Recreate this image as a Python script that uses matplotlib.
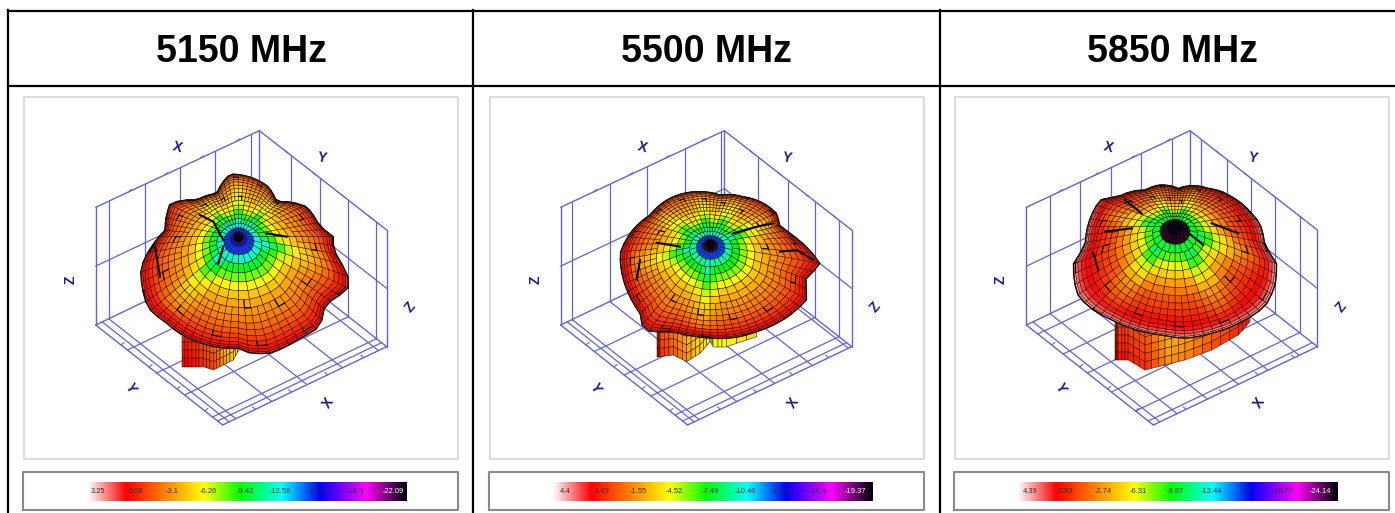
import numpy as np
import matplotlib
matplotlib.use('Agg')
import matplotlib.pyplot as plt
from matplotlib.collections import PolyCollection, LineCollection
from matplotlib.colors import LinearSegmentedColormap

# headers and colour scale labels
Freqs = ['5150 MHz', '5500 MHz', '5850 MHz']
Scale_1 = ['3.25', '0.08', '-3.1', '-6.26', '-9.42', '-12.58', '-15.74', '-18.9', '-22.09']
Scale_2 = ['4.4', '1.43', '-1.55', '-4.52', '-7.49', '-10.46', '-13.43', '-16.4', '-19.37']
Scale_3 = ['4.39', '0.83', '-2.74', '-6.31', '-9.87', '-13.44', '-17', '-20.57', '-24.14']

# gain (dB) per mesh ring, hole to rim
Ring_1 = [-15.6,-14.5,-11.5,-9.4,-7.6,-5.9,-4.6,-3.8,-3.3,-2.8,-2.3,-1.8,-1.3,-0.8,-0.3,0.2,0.7,1.5]
Ring_2 = [-18.9,-12.2,-8.9,-7.0,-5.6,-4.2,-3.0,-2.3,-1.8,-1.3,-0.8,-0.35,0.1,0.6,1.07,1.55,2.0,2.7]
Ring_3 = [-24.1,-23.6,-9.9,-8.2,-6.4,-4.7,-3.3,-2.2,-1.3,-0.75,-0.2,0.4,0.97,1.25,1.8,2.4,3.1,3.8]

Hole_1 = (715, 440)
Hole_2 = (690, 462)
Hole_3 = (690, 410)
Hole_size = [6, 6, 11]
Out_1_x = [690,805,830,920,960,1000,1000,1025,1053,1000,975,960,900,810,750,720,640,555,500,450,435,422,465,495,510,590,650]
Out_1_y = [252,290,335,350,410,440,480,520,585,630,640,710,745,790,790,775,770,740,700,660,630,535,455,420,340,330,310]
Out_2_x = [610,660,720,790,860,890,900,950,1020,975,980,960,900,830,700,650,580,490,480,460,430,420,450,510,560]
Out_2_y = [310,305,315,320,345,370,410,445,520,570,630,650,695,725,745,740,725,720,670,640,570,490,430,375,330]
Out_3_x = [465,520,600,640,700,790,860,920,945,960,995,990,960,900,800,720,650,560,500,430,395,385,420,430]
Out_3_y = [330,320,300,285,295,295,320,370,400,470,520,590,650,690,730,745,735,715,690,650,610,520,470,400]

# lower lobe under the dome
Stub_1_x = [545,575,610,640,670,700,720,750,810]
Stub_1_y = [830,830,830,840,825,810,775,790,790]
Stub_1_g = [0.2,-0.2,-1.0,-1.5,-3.5,-5.0,-5.0,-5.5,-4.0]
Stub_2_x = [530,540,580,620,660,690,700,740,830]
Stub_2_y = [800,800,795,815,790,755,770,770,740]
Stub_2_g = [1.0,0.5,-0.5,-2.0,-3.5,-4.0,-4.5,-4.0,-3.0]
Stub_3_x = [510,520,550,600,660,720,800,880,915]
Stub_3_y = [810,810,810,840,825,810,780,735,695]
Stub_3_g = [0.8,0.4,0.2,-0.5,-3.0,-2.5,-1.0,0.0,0.5]

# directions (deg, screen) of the darker arms around the hole
Arms_1 = [-135, -90, -45, 15, 133]
Arms_2 = [-150, -100, -60, -20, 165, 95]
Arms_3 = [-170, -120, -60, 20, 60, 130]

# dark folds in the mesh
Folds_1 = [[(600,375),(640,395),(670,450)], [(800,430),(860,440)], [(670,470),(655,520)], [(465,470),(480,560)]]
Folds_2 = [[(530,458),(600,470)], [(760,430),(830,410),(880,400)], [(900,485),(950,480),(1000,510)], [(480,510),(470,570)]]
Folds_3 = [[(480,425),(560,415)], [(540,330),(590,370)], [(720,420),(775,465)], [(800,400),(880,430)], [(445,490),(460,540)]]

# wire box grid, fractions along the walls
Left_1 = [.08,.30,.515,.73,.95]
Right_1 = [.25,.48,.70,.92]
Left_2 = [.07,.30,.53,.76,.98]
Right_2 = [.265,.50,.71,.90]
Left_3 = [.145,.33,.52,.70,.89]
Right_3 = [.09,.29,.48,.67,.86]

# crop origin (px), box top corner in crop
Crop_x = [0, 480, 945]
Top_x = [778, 733, 735]
Frame_x = [(24, 458), (490, 924), (955, 1389)]
Bar_x = [(87, 407), (552, 873), (1017, 1338)]
Label_x = [[98,136,172,208,245,280,318,355,393],
           [565,602,638,674,710,745,782,818,855],
           [1030,1066,1103,1138,1175,1211,1246,1283,1320]]

Scale_colors = ['#ffffff','#ff0000','#ff8000','#ffff00','#00ff00','#00ffff','#0000ff','#ff00ff','#000000']
Scale_pos = [0,.12,.24,.365,.48,.61,.73,.875,1]
cmap = LinearSegmentedColormap.from_list('gain', list(zip(Scale_pos, Scale_colors)))

Blue = '#5f63dc'

plt.rcParams['font.family'] = ['Liberation Sans', 'DejaVu Sans']
fig = plt.figure(figsize=(13.95, 5.13), dpi=100)
ax = fig.add_axes([0, 0, 1, 1])
ax.set_xlim(0, 1395)
ax.set_ylim(513, 0)
ax.axis('off')


def wire_box(i, left, right):
    ox = Crop_x[i]
    def P(x, y):
        return np.array([ox + (Top_x[i] + x) / 3, 90 + y / 3])
    top, lt, lb = P(0, 122), P(-491, 352), P(-491, 705)
    back, rb, rt = P(0, 470), P(382, 770), P(382, 420)
    front = P(-110, 1005)
    def seg(a, b, lw=0.9):
        ax.plot([a[0], b[0]], [a[1], b[1]], color=Blue, lw=lw, zorder=1, solid_capstyle='round')
    for a, b in [(top, lt), (lt, lb), (top, back), (top, rt), (rt, rb), (back, lb), (back, rb), (lb, front), (front, rb)]:
        seg(a, b, 1.0)
    # mid lines on the walls
    seg((lt + lb) / 2, (top + back) / 2)
    seg((rt + rb) / 2, (top + back) / 2)
    for f in left:
        seg(lb + f * (back - lb), lt + f * (top - lt))
        seg(lb + f * (back - lb), front + f * (rb - front))
    for f in right:
        seg(back + f * (rb - back), top + f * (rt - top))
        seg(back + f * (rb - back), lb + f * (front - lb))
    # inner edge of the floor
    d = 0.04
    seg(lb + d * (back - lb), front + d * (rb - front))
    seg(rb + d * (back - rb), front + d * (lb - front))
    # ticks on the top edges
    for f in [.2, .42, .64, .86]:
        p = lt + f * (top - lt)
        seg(p, p + np.array([3, -2.5]), 0.8)
        p = top + f * (rt - top)
        seg(p, p + np.array([3, 2.5]), 0.8)
        p = lb + f * (front - lb)
        seg(p, p + np.array([3, -2.5]), 0.8)
        p = front + f * (rb - front)
        seg(p, p + np.array([-3, -2.5]), 0.8)
    # axis letters
    for s, dx, dy, rot in [('X', -82, 17, -15), ('Y', 63, 27, -10), ('Z', -189, 149, 90),
                           ('Z', 151, 177, 50), ('Y', -129, 257, -60), ('X', 69, 272, 55)]:
        ax.text(ox + Top_x[i] / 3 + dx, 90 + 122 / 3 + dy, s, fontsize=10,
                color='#1a1a8c', rotation=rot, ha='center', va='center', fontweight='bold', zorder=2)


def dome(i, hole, xs, ys, rings, top, bot, arms, folds, stub_x, stub_y, stub_g):
    ox = Crop_x[i]
    span = top - bot
    # lower lobe, straight columns hanging behind the dome
    polys, vals = [], []
    sx = np.array(stub_x, float)
    sy = np.array(stub_y, float)
    n_sub = 3
    for k in range(len(sx) - 1):
        for c in range(n_sub):
            f0, f1 = c / n_sub, (c + 1) / n_sub
            x0, x1 = sx[k] + f0 * (sx[k + 1] - sx[k]), sx[k] + f1 * (sx[k + 1] - sx[k])
            y0, y1 = sy[k] + f0 * (sy[k + 1] - sy[k]), sy[k] + f1 * (sy[k + 1] - sy[k])
            g = stub_g[k] + f0 * (stub_g[k + 1] - stub_g[k])
            for r in range(6):
                ya0, ya1 = y0 - 150 + 150 * r / 6, y0 - 150 + 150 * (r + 1) / 6
                yb0, yb1 = y1 - 150 + 150 * r / 6, y1 - 150 + 150 * (r + 1) / 6
                polys.append([(ox + x0 / 3, 90 + ya0 / 3), (ox + x1 / 3, 90 + yb0 / 3),
                              (ox + x1 / 3, 90 + yb1 / 3), (ox + x0 / 3, 90 + ya1 / 3)])
                vals.append((top - g + 0.3 * (5 - r)) / span)
    ax.add_collection(PolyCollection(polys, array=np.array(vals), cmap=cmap, clim=(0, 1),
                                     edgecolors='#201000', linewidths=0.35, zorder=3))

    # dome outline as radius around the hole
    dx, dy = np.array(xs, float) - hole[0], np.array(ys, float) - hole[1]
    ang = np.arctan2(dy, dx)
    rad = np.hypot(dx, dy)
    order = np.argsort(ang)
    spokes = np.linspace(-np.pi, np.pi, 73)
    R = np.interp(spokes, ang[order], rad[order], period=2 * np.pi)
    kernel = np.ones(15) / 15
    smooth = np.convolve(np.r_[R[-8:-1], R, R[1:8]], kernel, mode='valid')
    nr = len(rings)
    tt = np.sin(np.linspace(0.02, 1, nr + 1) * np.pi / 2) ** 1.15
    X = np.zeros((nr + 1, 73))
    Y = np.zeros((nr + 1, 73))
    for k, t in enumerate(tt):
        w = t ** 3
        rr = t * (w * R + (1 - w) * smooth)
        X[k] = hole[0] + rr * np.cos(spokes)
        Y[k] = hole[1] + rr * np.sin(spokes)
    X = ox + X / 3
    Y = 90 + Y / 3

    polys, vals, steps = [], [], []
    for k in range(nr):
        t = (k + 0.5) / nr
        # inner rings use every second spoke so the hole does not fill in
        stride = 3 if k < 3 else 2 if k < 8 else 1
        for s in range(0, 72, stride):
            phi = 0.5 * (spokes[s] + spokes[s + stride])
            pos = (top - rings[k]) / span
            # rim stays darker on the far side
            pos += 0.10 * max(0, -np.sin(phi)) * t
            for a in arms:
                d = np.degrees((phi - np.radians(a) + np.pi) % (2 * np.pi) - np.pi)
                if 0.15 < t < 0.75:
                    pos += 0.13 * np.exp(-(d / 10) ** 2) * (1 - t)
            polys.append([(X[k, s], Y[k, s]), (X[k, s + stride], Y[k, s + stride]),
                          (X[k + 1, s + stride], Y[k + 1, s + stride]), (X[k + 1, s], Y[k + 1, s])])
            vals.append(pos)
            # broken dark steps of the mesh
            if k > 6 and (k * 7 + s * 13 + i * 5) % 29 == 0:
                steps.append([(X[k + 1, s], Y[k + 1, s]), (X[k + 1, s + 1], Y[k + 1, s + 1]), (X[k, s + 1], Y[k, s + 1])])
    ax.add_collection(PolyCollection(polys, array=np.array(vals), cmap=cmap, clim=(0, 1),
                                     edgecolors='#201000', linewidths=0.35, zorder=4))
    ax.add_collection(LineCollection(steps, colors='black', linewidths=0.9, zorder=5))
    ax.plot(X[-1], Y[-1], color='#201000', lw=0.8, zorder=5)
    for fold in folds:
        fx = [ox + p[0] / 3 for p in fold]
        fy = [90 + p[1] / 3 for p in fold]
        ax.plot(fx, fy, color='black', lw=1.5, zorder=5)
    ax.plot(ox + hole[0] / 3, 90 + hole[1] / 3, 'o', ms=Hole_size[i], color='#050514', zorder=5)


def color_bar(i, labels):
    x0, x1 = Bar_x[i]
    grad = np.linspace(0, 1, 400).reshape(1, -1)
    ax.imshow(grad, cmap=cmap, extent=(x0, x1, 501, 482), aspect='auto', zorder=2, vmin=0, vmax=1)
    for x, s in zip(Label_x[i], labels):
        col = 'white' if s == labels[-1] else '#303030'
        ax.text(x, 491.5, s, fontsize=5.4, color=col, ha='center', va='center', zorder=3)


Scales = [Scale_1, Scale_2, Scale_3]
Walls = [(Left_1, Right_1), (Left_2, Right_2), (Left_3, Right_3)]
Domes = [(Hole_1, Out_1_x, Out_1_y, Ring_1, 3.25, -22.09, Arms_1, Folds_1, Stub_1_x, Stub_1_y, Stub_1_g),
         (Hole_2, Out_2_x, Out_2_y, Ring_2, 4.4, -19.37, Arms_2, Folds_2, Stub_2_x, Stub_2_y, Stub_2_g),
         (Hole_3, Out_3_x, Out_3_y, Ring_3, 4.39, -24.14, Arms_3, Folds_3, Stub_3_x, Stub_3_y, Stub_3_g)]

for i in range(3):
    x0, x1 = Frame_x[i]
    # picture frame and scale frame
    ax.plot([x0, x0, x1, x1, x0], [97, 459, 459, 97, 97], color='#dcdcdc', lw=1.5, zorder=1)
    ax.plot([x0 - 1, x0 - 1, x1, x1, x0 - 1], [510, 472, 472, 510, 510], color='#8a8a8a', lw=1.5, zorder=1)
    wire_box(i, *Walls[i])
    dome(i, *Domes[i])
    color_bar(i, Scales[i])

# table lines, the right side runs off the picture
for x in [8, 473, 939.5]:
    ax.plot([x, x], [10, 513], color='black', lw=1.6, zorder=6)
for y in [10.5, 86]:
    ax.plot([8, 1395], [y, y], color='black', lw=1.6, zorder=6)
for x, s in zip([241, 706, 1172], Freqs):
    ax.text(x, 62, s, fontsize=27, fontweight='bold', ha='center', va='baseline', color='black')

ax.set_xlim(0, 1395)
ax.set_ylim(513, 0)
fig.savefig('out.png', dpi=100)
